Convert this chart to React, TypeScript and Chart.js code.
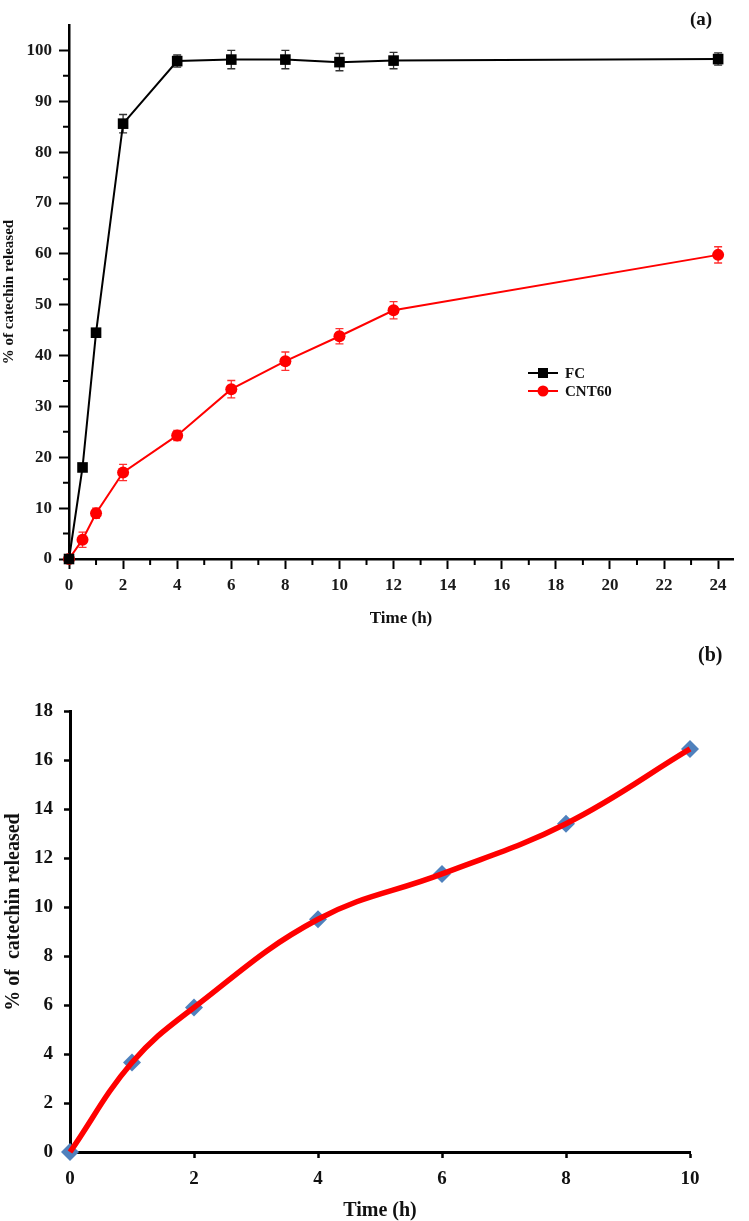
import React, { useEffect, useRef } from 'react';
import { Chart, registerables } from 'chart.js';

Chart.register(...registerables);

const FONT = '"Liberation Serif", "Times New Roman", Times, serif';

// ---------- Panel (a) data ----------
const timeA = [0, 0.5, 1, 2, 4, 6, 8, 10, 12, 24];
const fcValues = [0, 18.0, 44.5, 85.6, 97.9, 98.2, 98.2, 97.7, 98.0, 98.3];
const fcErrors = [0, 0, 0, 1.8, 1.2, 1.8, 1.8, 1.7, 1.6, 1.2];
const cntValues = [0, 3.8, 9.0, 17.0, 24.3, 33.4, 38.9, 43.8, 48.9, 59.8];
const cntErrors = [0, 1.5, 1.0, 1.6, 1.0, 1.7, 1.8, 1.5, 1.7, 1.6];
const seriesNamesA = ['FC', 'CNT60'];
const xMinorA = [1, 3, 5, 7, 9, 11, 13, 15, 17, 19, 21, 23];
const yMinorA = [5, 15, 25, 35, 45, 55, 65, 75, 85, 95];
const axisTitleXA = 'Time (h)';
const axisTitleYA = '% of catechin released';

// ---------- Panel (b) data ----------
const timeB = [0, 1, 2, 4, 6, 8, 10];
const releaseB = [0, 3.65, 5.9, 9.5, 11.35, 13.4, 16.45];
const axisTitleXB = 'Time (h)';
const axisTitleYB = '% of  catechin released';

const toPoints = (xs: number[], ys: number[]) => xs.map((x, i) => ({ x, y: ys[i] }));

function makeErrorBarPlugin(errorsList: number[][], colors: string[]) {
  return {
    id: 'errorBars',
    beforeDatasetsDraw(chart: any) {
      const ctx = chart.ctx;
      const yScale = chart.scales.y;
      errorsList.forEach((errs, i) => {
        const meta = chart.getDatasetMeta(i);
        const ds = chart.data.datasets[i];
        ctx.save();
        ctx.strokeStyle = colors[i];
        ctx.lineWidth = 1.3;
        ctx.beginPath();
        meta.data.forEach((pt: any, j: number) => {
          const e = errs[j];
          if (!e) return;
          const v = ds.data[j].y;
          const yT = yScale.getPixelForValue(v + e);
          const yB = yScale.getPixelForValue(v - e);
          const x = pt.x;
          ctx.moveTo(x, yT);
          ctx.lineTo(x, yB);
          ctx.moveTo(x - 4, yT);
          ctx.lineTo(x + 4, yT);
          ctx.moveTo(x - 4, yB);
          ctx.lineTo(x + 4, yB);
        });
        ctx.stroke();
        ctx.restore();
      });
    },
  };
}

function makeMinorTickPlugin(xVals: number[], yVals: number[], len: number, width: number) {
  return {
    id: 'minorTicks',
    afterDraw(chart: any) {
      const { ctx, chartArea } = chart;
      const x = chart.scales.x;
      const y = chart.scales.y;
      ctx.save();
      ctx.strokeStyle = '#000';
      ctx.lineWidth = width;
      ctx.beginPath();
      xVals.forEach((v) => {
        const px = x.getPixelForValue(v);
        ctx.moveTo(px, chartArea.bottom);
        ctx.lineTo(px, chartArea.bottom + len);
      });
      yVals.forEach((v) => {
        const py = y.getPixelForValue(v);
        ctx.moveTo(chartArea.left, py);
        ctx.lineTo(chartArea.left - len, py);
      });
      ctx.stroke();
      ctx.restore();
    },
  };
}

const legendPluginA = {
  id: 'legendA',
  afterDraw(chart: any) {
    const ctx = chart.ctx;
    const x0 = 528;
    const x1 = 558;
    const y0 = 373;
    const rowH = 18;
    chart.data.datasets.forEach((ds: any, i: number) => {
      const y = y0 + i * rowH;
      const c = ds.borderColor;
      ctx.save();
      ctx.strokeStyle = c;
      ctx.fillStyle = c;
      ctx.lineWidth = 2;
      ctx.beginPath();
      ctx.moveTo(x0, y);
      ctx.lineTo(x1, y);
      ctx.stroke();
      const cx = (x0 + x1) / 2;
      ctx.beginPath();
      if (ds.pointStyle === 'rect') {
        ctx.rect(cx - 5, y - 5, 10, 10);
      } else {
        ctx.arc(cx, y, 5.5, 0, Math.PI * 2);
      }
      ctx.fill();
      ctx.fillStyle = '#111';
      ctx.font = `bold 15px ${FONT}`;
      ctx.textBaseline = 'middle';
      ctx.textAlign = 'left';
      ctx.fillText(ds.label, x1 + 7, y + 1);
      ctx.restore();
    });
  },
};

const yTitlePluginB = {
  id: 'yTitleB',
  afterDraw(chart: any) {
    const ctx = chart.ctx;
    ctx.save();
    ctx.translate(14, 277);
    ctx.rotate(-Math.PI / 2);
    ctx.font = `bold 20px ${FONT}`;
    ctx.fillStyle = '#111';
    ctx.textAlign = 'center';
    ctx.textBaseline = 'middle';
    ctx.fillText(axisTitleYB, 0, 0);
    ctx.restore();
  },
};

function configA(): any {
  return {
    type: 'line',
    data: {
      datasets: [
        {
          label: seriesNamesA[0],
          data: toPoints(timeA, fcValues),
          borderColor: '#000000',
          backgroundColor: '#000000',
          pointBackgroundColor: '#000000',
          pointBorderColor: '#000000',
          pointStyle: 'rect',
          pointRadius: 7.5,
          pointBorderWidth: 0,
          borderWidth: 2,
          tension: 0,
          clip: false,
        },
        {
          label: seriesNamesA[1],
          data: toPoints(timeA, cntValues),
          borderColor: '#ff0000',
          backgroundColor: '#ff0000',
          pointBackgroundColor: '#ff0000',
          pointBorderColor: '#ff0000',
          pointStyle: 'circle',
          pointRadius: 6,
          pointBorderWidth: 0,
          borderWidth: 2,
          tension: 0,
          clip: false,
        },
      ],
    },
    options: {
      responsive: false,
      animation: false,
      events: [],
      layout: { padding: { top: 25, right: 16, bottom: 0, left: 0 } },
      plugins: { legend: { display: false }, tooltip: { enabled: false } },
      scales: {
        x: {
          type: 'linear',
          min: 0,
          max: 24.55,
          afterFit: (s: any) => {
            s.height = 73;
          },
          ticks: {
            stepSize: 2,
            includeBounds: false,
            padding: 6,
            color: '#1a1a1a',
            font: { family: FONT, size: 17, weight: 'bold' },
            maxRotation: 0,
          },
          grid: {
            display: true,
            drawOnChartArea: false,
            drawTicks: true,
            tickLength: 10,
            tickWidth: 2,
            tickColor: '#000',
          },
          border: { display: true, color: '#000', width: 2.5 },
          title: {
            display: true,
            text: axisTitleXA,
            color: '#111',
            font: { family: FONT, size: 17, weight: 'bold' },
            padding: { top: 0, bottom: 3 },
          },
        },
        y: {
          type: 'linear',
          min: 0,
          max: 105,
          afterFit: (s: any) => {
            s.width = 69;
          },
          ticks: {
            stepSize: 10,
            includeBounds: false,
            padding: 7,
            color: '#1a1a1a',
            font: { family: FONT, size: 17, weight: 'bold' },
          },
          grid: {
            display: true,
            drawOnChartArea: false,
            drawTicks: true,
            tickLength: 10,
            tickWidth: 2,
            tickColor: '#000',
          },
          border: { display: true, color: '#000', width: 2.5 },
          title: {
            display: true,
            text: axisTitleYA,
            color: '#111',
            font: { family: FONT, size: 15, weight: 'bold' },
            padding: { top: 0, bottom: 0 },
          },
        },
      },
    },
    plugins: [
      makeErrorBarPlugin([fcErrors, cntErrors], ['#333333', '#ff3030']),
      makeMinorTickPlugin(xMinorA, yMinorA, 6, 2),
      legendPluginA,
    ],
  };
}

function configB(): any {
  return {
    type: 'line',
    data: {
      datasets: [
        {
          label: 'curve',
          data: toPoints(timeB, releaseB),
          borderColor: '#ff0000',
          backgroundColor: '#ff0000',
          borderWidth: 5.5,
          pointRadius: 0,
          tension: 0.4,
          cubicInterpolationMode: 'default',
          clip: false,
        },
        {
          label: 'points',
          data: toPoints(timeB, releaseB),
          showLine: false,
          pointStyle: 'rectRot',
          pointRadius: 9,
          pointBackgroundColor: '#4f81bd',
          pointBorderColor: '#4f81bd',
          pointBorderWidth: 0,
          clip: false,
        },
      ],
    },
    options: {
      responsive: false,
      animation: false,
      events: [],
      layout: { padding: { top: 76, right: 59, bottom: 0, left: 0 } },
      plugins: { legend: { display: false }, tooltip: { enabled: false } },
      scales: {
        x: {
          type: 'linear',
          min: 0,
          max: 10,
          afterFit: (s: any) => {
            s.height = 69;
          },
          ticks: {
            stepSize: 2,
            includeBounds: false,
            padding: 10,
            color: '#111',
            font: { family: FONT, size: 19, weight: 'bold' },
            maxRotation: 0,
          },
          grid: {
            display: true,
            drawOnChartArea: false,
            drawTicks: true,
            tickLength: 6,
            tickWidth: 2.5,
            tickColor: '#000',
          },
          border: { display: true, color: '#000', width: 3 },
          title: {
            display: true,
            text: axisTitleXB,
            color: '#111',
            font: { family: FONT, size: 20, weight: 'bold' },
            padding: { top: 0, bottom: -2 },
          },
        },
        y: {
          type: 'linear',
          min: 0,
          max: 18,
          afterFit: (s: any) => {
            s.width = 70;
          },
          ticks: {
            stepSize: 2,
            includeBounds: false,
            padding: 11,
            color: '#111',
            font: { family: FONT, size: 19, weight: 'bold' },
          },
          grid: {
            display: true,
            drawOnChartArea: false,
            drawTicks: true,
            tickLength: 6,
            tickWidth: 2.5,
            tickColor: '#000',
          },
          border: { display: true, color: '#000', width: 3 },
          title: { display: false },
        },
      },
    },
    plugins: [yTitlePluginB],
  };
}

function ChartCanvas(props: { make: () => any; top: number; width: number; height: number }) {
  const ref = useRef<HTMLCanvasElement>(null);
  useEffect(() => {
    const chart = new Chart(ref.current as HTMLCanvasElement, props.make());
    return () => chart.destroy();
  }, []);
  return (
    <canvas
      ref={ref}
      width={props.width}
      height={props.height}
      style={{ position: 'absolute', left: 0, top: props.top, width: props.width, height: props.height }}
    />
  );
}

export default function App() {
  return (
    <div
      style={{
        position: 'absolute',
        left: 0,
        top: 0,
        width: 749,
        height: 1221,
        background: '#ffffff',
        overflow: 'hidden',
        fontFamily: FONT,
      }}
    >
      <ChartCanvas make={configA} top={0} width={749} height={632} />
      <ChartCanvas make={configB} top={635} width={749} height={586} />
      <div
        style={{
          position: 'absolute',
          left: 690,
          top: 9,
          fontSize: 19,
          fontWeight: 'bold',
          lineHeight: 1,
          color: '#111',
        }}
      >
        (a)
      </div>
      <div
        style={{
          position: 'absolute',
          left: 698,
          top: 644,
          fontSize: 20,
          fontWeight: 'bold',
          lineHeight: 1,
          color: '#111',
        }}
      >
        (b)
      </div>
    </div>
  );
}
